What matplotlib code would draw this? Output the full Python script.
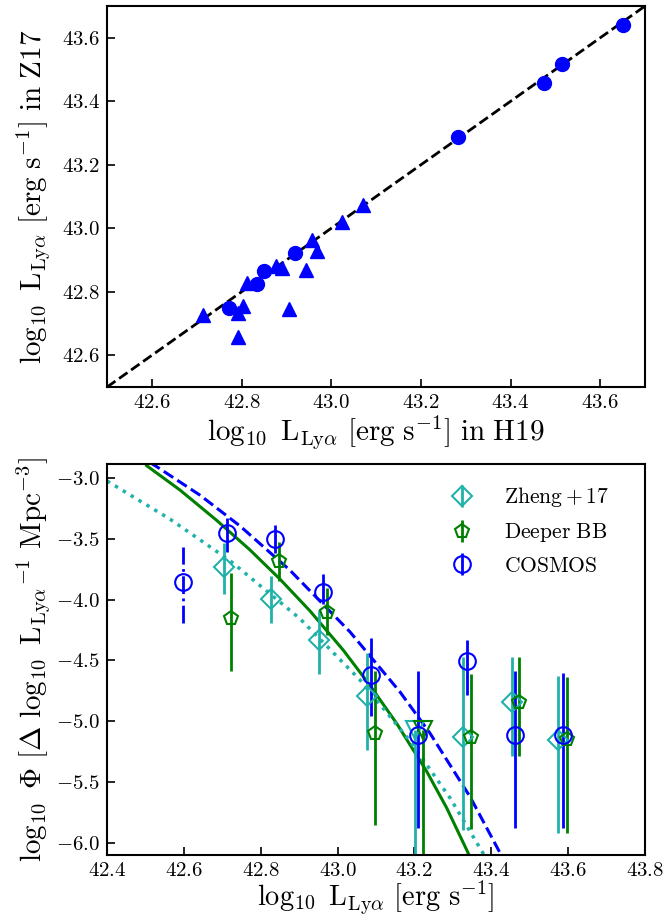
import numpy as np
import matplotlib.pyplot as plt

plt.rcParams['mathtext.fontset'] = 'cm'
plt.rcParams['font.family'] = 'serif'
plt.rcParams['font.serif'] = ['cmr10']
plt.rcParams['axes.formatter.use_mathtext'] = True
plt.rcParams['axes.unicode_minus'] = True

# ---- top panel: H19 vs Z17 luminosities
circ_h19 = [42.771, 42.834, 42.851, 42.920, 43.282, 43.475, 43.514, 43.650]
circ_z17 = [42.750, 42.825, 42.866, 42.921, 43.289, 43.458, 43.518, 43.639]
tri_h19 = [42.713, 42.803, 42.793, 42.793, 42.812, 42.877, 42.890, 42.905,
           42.944, 42.957, 42.969, 43.024, 43.070]
tri_z17 = [42.727, 42.756, 42.733, 42.657, 42.827, 42.880, 42.874, 42.745,
           42.869, 42.962, 42.927, 43.020, 43.074]
one_to_one = [42.5, 43.7]

# ---- bottom panel: luminosity functions
# Zheng+17 (diamonds)
z17_x = [42.703, 42.827, 42.952, 43.076, 43.327, 43.453, 43.574]
z17_y = [-3.729, -3.994, -4.331, -4.791, -5.126, -4.838, -5.153]
z17_hi = [-3.537, -3.805, -4.085, -4.440, -4.468, -4.468, -4.627]
z17_lo = [-3.953, -4.194, -4.610, -5.235, -5.892, -5.284, -5.915]
z17_lim_x = [43.201]
z17_lim_y = [-5.071]

# Deeper BB (pentagons)
bb_x = [42.722, 42.848, 42.972, 43.097, 43.347, 43.472, 43.596]
bb_y = [-4.153, -3.679, -4.099, -5.093, -5.126, -4.838, -5.147]
bb_hi = [-3.783, -3.523, -3.906, -4.591, -4.610, -4.474, -4.638]
bb_lo = [-4.591, -3.844, -4.290, -5.851, -5.887, -5.284, -5.915]
bb_lim_x = [43.223]
bb_lim_y = [-5.071]

# COSMOS (circles)
cos_x = [42.711, 42.837, 42.963, 43.087, 43.210, 43.336, 43.462, 43.587]
cos_y = [-3.454, -3.501, -3.934, -4.619, -5.112, -4.504, -5.112, -5.112]
cos_hi = [-3.330, -3.386, -3.789, -4.317, -4.591, -4.330, -4.591, -4.600]
cos_lo = [-3.610, -3.619, -4.040, -4.961, -5.878, -4.783, -5.878, -5.878]
cos_first_x = [42.597]
cos_first_y = [-3.852]
cos_first_hi = [-3.565]
cos_first_lo = [-4.189]

# fitted curves
fit_cos_x = [42.512, 42.529, 42.642, 42.746, 42.876, 43.032, 43.162, 43.240,
             43.345, 43.423, 43.449]
fit_cos_y = [-2.874, -2.907, -3.142, -3.395, -3.759, -4.265, -4.758, -5.097,
             -5.623, -6.085, -6.254]
fit_bb_x = [42.503, 42.590, 42.685, 42.772, 42.850, 42.928, 43.015, 43.084,
            43.154, 43.232, 43.284, 43.336, 43.350]
fit_bb_y = [-2.899, -3.100, -3.348, -3.592, -3.832, -4.093, -4.417, -4.705,
            -5.020, -5.414, -5.714, -6.059, -6.159]
fit_z17_x = [42.400, 42.564, 42.720, 42.902, 43.058, 43.188, 43.293, 43.384]
fit_z17_y = [-3.025, -3.339, -3.680, -4.157, -4.660, -5.161, -5.633, -6.114]

cyan = 'lightseagreen'
green = 'green'
blue = 'blue'


def yerr(y, hi, lo):
    y = np.array(y)
    return [y - np.array(lo), np.array(hi) - y]


fig = plt.figure(figsize=(6.65, 9.18), dpi=100)

# top panel
ax1 = fig.add_axes([0.161, 0.5784, 0.809, 0.415])
ax1.plot(one_to_one, one_to_one, 'k--', lw=2)
ax1.plot(circ_h19, circ_z17, 'o', color=blue, ms=10, ls='none')
ax1.plot(tri_h19, tri_z17, '^', color=blue, ms=10, ls='none')
ax1.set_xlim(42.5, 43.7)
ax1.set_ylim(42.5, 43.7)
ax1.set_xticks([42.6, 42.8, 43.0, 43.2, 43.4, 43.6])
ax1.set_yticks([42.6, 42.8, 43.0, 43.2, 43.4, 43.6])
ax1.set_xlabel(r'$\log_{10}\ \rm L_{Ly\alpha}\ [erg\ s^{-1}]\ in\ H19$', fontsize=21, labelpad=1)
ax1.set_ylabel(r'$\log_{10}\ \rm L_{Ly\alpha}\ [erg\ s^{-1}]\ in\ Z17$', fontsize=21, labelpad=6)

# bottom panel
ax2 = fig.add_axes([0.161, 0.0686, 0.809, 0.426])
ax2.plot(fit_cos_x, fit_cos_y, '--', color=blue, lw=2.2)
ax2.plot(fit_bb_x, fit_bb_y, '-', color=green, lw=2.2)
ax2.plot(fit_z17_x, fit_z17_y, ':', color=cyan, lw=2.5)

mk = dict(mfc='none', mew=1.5, capsize=0, elinewidth=2, ls='none')
h_z17 = ax2.errorbar(z17_x, z17_y, yerr=yerr(z17_y, z17_hi, z17_lo),
                     fmt='D', color=cyan, ms=10, **mk)
ax2.errorbar(z17_lim_x, z17_lim_y, yerr=[[1.5], [0]], fmt='v', color=cyan, ms=13, **mk)
h_bb = ax2.errorbar(bb_x, bb_y, yerr=yerr(bb_y, bb_hi, bb_lo),
                    fmt='p', color=green, ms=10, **mk)
ax2.errorbar(bb_lim_x, bb_lim_y, yerr=[[1.5], [0]], fmt='v', color=green, ms=13, **mk)
h_cos = ax2.errorbar(cos_x, cos_y, yerr=yerr(cos_y, cos_hi, cos_lo),
                     fmt='o', color=blue, ms=12, **mk)
first = ax2.errorbar(cos_first_x, cos_first_y,
                     yerr=yerr(cos_first_y, cos_first_hi, cos_first_lo),
                     fmt='o', color=blue, ms=12, **mk)
first[2][0].set_linestyle('-.')

ax2.set_xlim(42.4, 43.8)
ax2.set_ylim(-6.1, -2.885)
ax2.set_xticks([42.4, 42.6, 42.8, 43.0, 43.2, 43.4, 43.6, 43.8])
ax2.set_yticks([-6.0, -5.5, -5.0, -4.5, -4.0, -3.5, -3.0])
ax2.set_xlabel(r'$\log_{10}\ \rm L_{Ly\alpha}\ [erg\ s^{-1}]$', fontsize=20.5, labelpad=-1)
ax2.set_ylabel(r'$\log_{10}\ \Phi\ [\Delta\ \log_{10}\ {\rm L_{Ly\alpha}}^{-1}\ \rm Mpc^{-3}]$',
               fontsize=21, labelpad=2)
ax2.legend([h_z17, h_bb, h_cos],
           [r'$\rm Zheng+17$', r'$\rm Deeper\ BB$', r'$\rm COSMOS$'],
           loc='upper right', bbox_to_anchor=(0.972, 1.0), frameon=False,
           fontsize=15.5, handlelength=1.5, handletextpad=1.2,
           labelspacing=0.55, borderaxespad=0.6)

for ax in (ax1, ax2):
    ax.tick_params(direction='in', labelsize=15, length=6, width=1.2, pad=5)
    for s in ax.spines.values():
        s.set_linewidth(1.5)

fig.savefig('out.png', dpi=100)
